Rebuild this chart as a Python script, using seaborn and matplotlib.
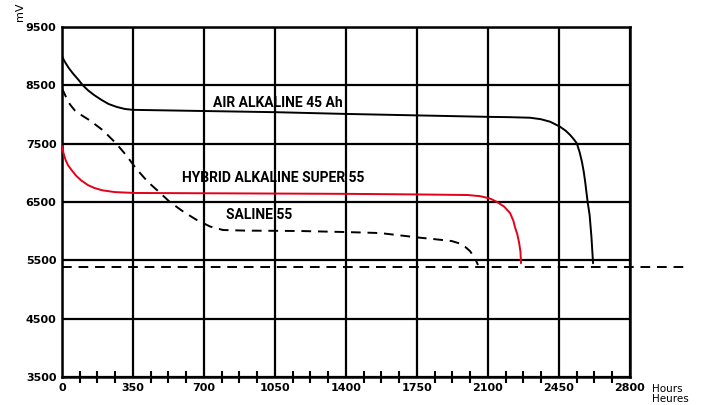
import numpy as np
import pandas as pd
import matplotlib
matplotlib.use("Agg")
import matplotlib.pyplot as plt
import seaborn as sns
from matplotlib.ticker import MultipleLocator

# values (hours, mV)
air_h = [0, 10, 20, 35, 55, 80, 103, 130, 160, 195, 230, 270, 310, 350, 700, 1050, 1400, 1750,
         2100, 2200, 2307, 2360, 2406, 2455, 2482, 2505, 2522, 2538, 2552, 2563, 2572, 2579,
         2591, 2601, 2610, 2618]
air_mv = [9000, 8930, 8870, 8790, 8700, 8600, 8500, 8410, 8330, 8250, 8180, 8130, 8095, 8080,
          8060, 8040, 8010, 7985, 7960, 7955, 7945, 7920, 7877, 7791, 7725, 7649, 7580, 7506,
          7350, 7191, 7020, 6849, 6506, 6277, 5900, 5450]

hybrid_h = [0, 8, 18, 30, 49, 70, 95, 128, 160, 200, 261, 360, 700, 1050, 1400, 1750, 2000,
            2061, 2110, 2145, 2180, 2209, 2225, 2233, 2245, 2253, 2260, 2263]
hybrid_mv = [7460, 7330, 7220, 7130, 7040, 6950, 6870, 6790, 6740, 6700, 6670, 6655, 6650,
             6645, 6640, 6630, 6620, 6600, 6560, 6500, 6420, 6310, 6180, 6070, 5940, 5810,
             5650, 5450]

saline_h = [0, 20, 40, 63, 100, 137, 202, 268, 317, 366, 424, 468, 532, 600, 665, 730, 794,
            900, 1173, 1400, 1568, 1765, 1829, 1921, 1960, 1987, 2011, 2036, 2051]
saline_mv = [8449, 8300, 8170, 8071, 7980, 7900, 7729, 7500, 7300, 7071, 6843, 6706, 6500,
             6330, 6191, 6080, 6020, 6010, 6003, 5985, 5968, 5888, 5866, 5831, 5790, 5733,
             5660, 5535, 5420]

cutoff_mv = 5380
cutoff_h = [0, 3080]

labels = ["AIR ALKALINE 45 Ah", "HYBRID ALKALINE SUPER 55", "SALINE 55"]
label_pos = [(744, 8197), (592, 6911), (808, 6277)]

y_ticks = [3500, 4500, 5500, 6500, 7500, 8500, 9500]
x_ticks = [0, 350, 700, 1050, 1400, 1750, 2100, 2450, 2800]

sns.set_style("white")
plt.rcParams['font.family'] = ['DejaVu Sans']
plt.rcParams['text.color'] = 'black'
plt.rcParams['xtick.color'] = 'black'
plt.rcParams['ytick.color'] = 'black'

fig = plt.figure(figsize=(7.01, 4.05), dpi=100)
ax = fig.add_axes([0.0884, 0.0691, 0.8103, 0.8642])

air = pd.DataFrame({"h": air_h, "mv": air_mv})
hyb = pd.DataFrame({"h": hybrid_h, "mv": hybrid_mv})
sal = pd.DataFrame({"h": saline_h, "mv": saline_mv})

line_kw = dict(lw=1.4, sort=False, estimator=None, zorder=4)
sns.lineplot(data=air, x="h", y="mv", ax=ax, color="black", **line_kw)
sns.lineplot(data=hyb, x="h", y="mv", ax=ax, color="#e2001a", **line_kw)
sns.lineplot(data=sal, x="h", y="mv", ax=ax, color="black", linestyle=(0, (5, 3.5)), **line_kw)
ax.plot(cutoff_h, [cutoff_mv, cutoff_mv], color="black", lw=1.4, linestyle=(0, (5, 3.5)),
        clip_on=False, zorder=4)
for ln in ax.lines:
    ln.set_solid_joinstyle("round")
    ln.set_dash_joinstyle("round")

for txt, (x, y) in zip(labels, label_pos):
    ax.text(x, y, txt, fontsize=10, fontweight="bold", family=["Roboto", "DejaVu Sans"],
            ha="left", va="center", zorder=5, color="black")

ax.set_xlim(0, 2800)
ax.set_ylim(3500, 9500)
ax.set_xticks(x_ticks)
ax.set_yticks(y_ticks)
ax.xaxis.set_minor_locator(MultipleLocator(87.5))
ax.grid(True, which="major", color="black", lw=1.6)
ax.set_axisbelow(True)
for s in ax.spines.values():
    s.set_color("black")
    s.set_linewidth(1.8)

ax.tick_params(axis="x", which="major", length=0, pad=4, labelsize=8)
ax.tick_params(axis="x", which="minor", bottom=True, direction="inout", length=9, width=1.5,
               color="black")
ax.tick_params(axis="y", which="major", length=0, pad=4, labelsize=8)
for t in ax.get_xticklabels() + ax.get_yticklabels():
    t.set_fontweight("bold")
ax.set_xlabel("")
ax.set_ylabel("")

fig.text(20 / 701, 1 - 12 / 405, "mV", rotation=90, fontsize=8, ha="center", va="center")
fig.text(652 / 701, 1 - 394 / 405, "Hours\nHeures", fontsize=7.5, ha="left", va="center",
         linespacing=0.95)

fig.savefig("out.png", dpi=100)
